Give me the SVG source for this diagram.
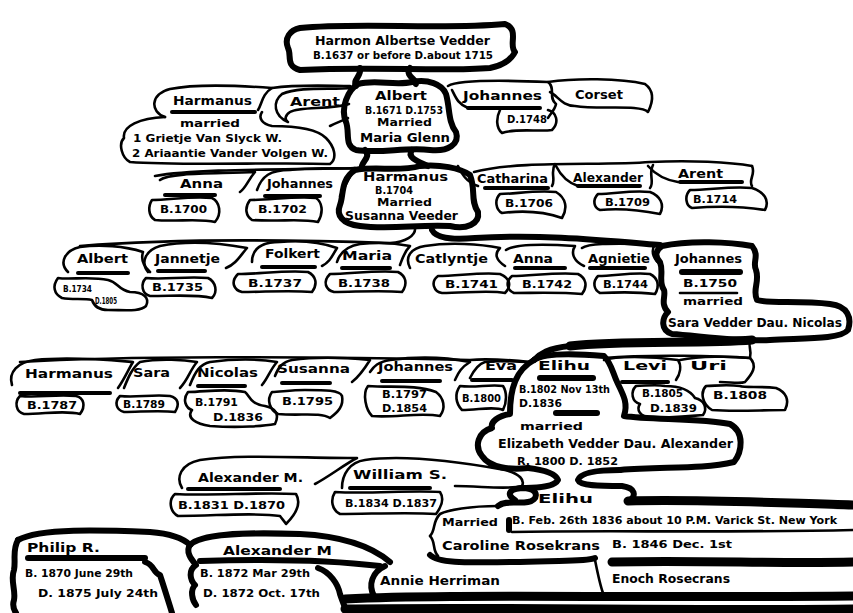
<svg xmlns="http://www.w3.org/2000/svg" width="853" height="613" viewBox="0 0 853 613">
<style>
.o{fill:none;stroke:#000;stroke-width:2.6;stroke-linecap:round;stroke-linejoin:round}
.h{fill:none;stroke:#000;stroke-width:6;stroke-linecap:round;stroke-linejoin:round}
.u{fill:none;stroke:#000;stroke-width:4;stroke-linecap:round}
.b{fill:none;stroke:#000;stroke-width:9;stroke-linecap:round}
text{font-family:"DejaVu Sans","Liberation Sans",sans-serif;font-weight:bold;fill:#000}
.n{font-size:13px}.d{font-size:11px}.t{font-size:10px}.s{font-size:9px}
</style>
<rect width="853" height="613" fill="#fff"/>

<g id="n-harmon">
<path class="h" d="M300,28 C360,22 440,30 505,24 C520,30 508,45 515,52 C510,62 500,66 490,68 C440,72 380,66 300,70 C285,66 292,55 288,48 C284,38 290,30 300,28 Z"/>
<text class="n" x="315" y="45" textLength="175" lengthAdjust="spacingAndGlyphs">Harmon Albertse Vedder</text>
<text class="d" x="313" y="59" textLength="180" lengthAdjust="spacingAndGlyphs">B.1637 or before D.about 1715</text>
</g>

<g id="n-harmanus-1">
<path class="o" d="M165,117 C150,112 150,94 170,89 C200,83 245,86 272,88 C262,94 262,104 258,110"/>
<path class="o" d="M165,117 C140,118 122,126 124,138 C118,144 122,158 130,162 C180,166 280,162 330,164 C338,158 334,146 326,138 C318,130 300,126 272,126 C262,124 258,118 262,112"/>
<path class="u" d="M172,112 L255,112"/>
<text class="n" x="173" y="105" textLength="79" lengthAdjust="spacingAndGlyphs">Harmanus</text>
<text class="d" x="180" y="127" textLength="60" lengthAdjust="spacingAndGlyphs">married</text>
<text class="d" x="133" y="142" textLength="149" lengthAdjust="spacingAndGlyphs">1 Grietje Van Slyck W.</text>
<text class="d" x="132" y="157" textLength="196" lengthAdjust="spacingAndGlyphs">2 Ariaantie Vander Volgen W.</text>
</g>

<g id="n-arent-1">
<path class="o" d="M282,94 C300,86 330,90 352,88 M349,104 C330,110 300,106 290,112 C284,116 285,120 288,122 C274,116 272,102 282,94"/>
<text class="n" x="290" y="106" textLength="50" lengthAdjust="spacingAndGlyphs">Arent</text>
</g>

<g id="n-albert">
<path class="h" d="M358,84 C375,79 395,86 412,82 C428,79 442,84 446,94 C450,108 448,122 456,132 C460,144 448,152 430,150 C405,147 380,154 356,150 C344,146 350,132 346,122 C340,108 348,90 358,84 Z"/>
<text class="n" x="375" y="100" textLength="52" lengthAdjust="spacingAndGlyphs">Albert</text>
<text class="t" x="365" y="114" textLength="78" lengthAdjust="spacingAndGlyphs">B.1671 D.1753</text>
<text class="t" x="377" y="126" textLength="55" lengthAdjust="spacingAndGlyphs">Married</text>
<text class="n" x="360" y="142" textLength="90" lengthAdjust="spacingAndGlyphs">Maria Glenn</text>
</g>

<g id="n-johannes-1">
<path class="o" d="M448,86 C458,80 500,80 548,82 C556,88 548,98 556,104 C555,110 550,114 548,118 M452,90 C456,98 458,104 468,108"/>
<path class="u" d="M468,108 L540,108"/>
<path class="o" d="M500,110 C496,118 496,128 502,133 C515,128 540,132 552,130 C560,122 556,112 548,110"/>
<text class="n" x="463" y="100" textLength="79" lengthAdjust="spacingAndGlyphs">Johannes</text>
<text class="d" x="507" y="123" textLength="40" lengthAdjust="spacingAndGlyphs">D.1748</text>
</g>

<g id="n-corset">
<path class="o" d="M548,82 C575,78 620,78 645,84 C656,92 652,104 648,112 C640,104 600,110 575,106 C562,106 558,96 550,92"/>
<text class="n" x="575" y="99" textLength="48" lengthAdjust="spacingAndGlyphs">Corset</text>
</g>

<g id="n-anna-1">
<path class="o" d="M160,180 C170,172 220,174 255,172 C248,180 246,188 240,192"/>
<path class="u" d="M165,195 L215,195"/>
<path class="o" d="M152,200 C148,206 148,216 155,220 C175,222 200,218 215,222 C222,214 220,202 212,198 C190,196 170,200 152,200 Z"/>
<text class="n" x="180" y="188" textLength="43" lengthAdjust="spacingAndGlyphs">Anna</text>
<text class="d" x="160" y="213" textLength="47" lengthAdjust="spacingAndGlyphs">B.1700</text>
</g>

<g id="n-johannes-2">
<path class="o" d="M257,190 C262,176 270,170 290,170 C320,166 345,170 355,168 C350,176 345,186 340,196"/>
<path class="u" d="M265,196 L320,196"/>
<path class="o" d="M250,200 C244,208 246,216 252,220 C280,222 300,218 318,222 C324,212 322,202 316,198 C295,196 270,200 250,200 Z"/>
<text class="n" x="267" y="188" textLength="66" lengthAdjust="spacingAndGlyphs">Johannes</text>
<text class="d" x="258" y="213" textLength="49" lengthAdjust="spacingAndGlyphs">B.1702</text>
</g>

<g id="n-harmanus-2">
<path class="h" d="M355,170 C375,166 400,172 420,166 C440,164 460,168 470,175 C476,190 470,200 478,212 C480,224 466,230 450,226 C420,224 390,230 360,226 C342,224 336,215 340,205 C344,195 340,180 355,170 Z"/>
<text class="n" x="363" y="181" textLength="85" lengthAdjust="spacingAndGlyphs">Harmanus</text>
<text class="t" x="375" y="194" textLength="38" lengthAdjust="spacingAndGlyphs">B.1704</text>
<text class="t" x="377" y="206" textLength="55" lengthAdjust="spacingAndGlyphs">Married</text>
<text class="n" x="345" y="220" textLength="113" lengthAdjust="spacingAndGlyphs">Susanna Veeder</text>
</g>

<g id="n-catharina">
<path class="o" d="M458,166 C462,174 466,182 478,186 M555,164 C550,172 556,180 552,186"/>
<path class="u" d="M485,188 L548,188"/>
<path class="o" d="M500,194 C494,200 496,210 502,213 C525,210 545,212 562,218 C568,208 566,198 556,192 C535,190 515,194 500,194 Z"/>
<text class="n" x="477" y="183" textLength="71" lengthAdjust="spacingAndGlyphs">Catharina</text>
<text class="d" x="505" y="207" textLength="48" lengthAdjust="spacingAndGlyphs">B.1706</text>
</g>

<g id="n-alexander-1">
<path class="o" d="M556,166 C560,174 566,182 578,186 M653,165 C648,175 655,182 650,188"/>
<path class="u" d="M578,186 L640,186"/>
<path class="o" d="M598,194 C592,200 594,208 600,210 C620,208 640,210 660,214 C665,204 660,196 650,192 C630,190 615,194 598,194 Z"/>
<text class="n" x="573" y="182" textLength="70" lengthAdjust="spacingAndGlyphs">Alexander</text>
<text class="d" x="605" y="206" textLength="45" lengthAdjust="spacingAndGlyphs">B.1709</text>
</g>

<g id="n-arent-2">
<path class="o" d="M648,166 C655,174 665,180 678,182 M752,166 C756,174 748,180 752,186"/>
<path class="u" d="M680,182 L742,182"/>
<path class="o" d="M690,190 C684,196 686,206 692,208 C715,206 740,206 765,210 C770,200 764,192 752,188 C730,186 710,190 690,190 Z"/>
<text class="n" x="678" y="178" textLength="45" lengthAdjust="spacingAndGlyphs">Arent</text>
<text class="d" x="693" y="203" textLength="44" lengthAdjust="spacingAndGlyphs">B.1714</text>
</g>

<g id="n-albert-2">
<path class="o" d="M68,272 C58,262 66,250 80,247 C100,244 125,246 143,252 C140,262 146,268 150,272"/>
<path class="u" d="M78,273 L128,273"/>
<path class="o" d="M58,278 C52,286 54,294 62,298 C72,300 84,298 92,300 C94,306 98,310 108,310 C125,310 140,312 146,306 C150,298 144,292 130,292 C118,290 118,282 108,280 C90,276 70,280 58,278 Z"/>
<text class="n" x="77" y="263" textLength="51" lengthAdjust="spacingAndGlyphs">Albert</text>
<text class="s" x="63" y="292" textLength="29" lengthAdjust="spacingAndGlyphs">B.1734</text>
<text class="s" x="95" y="304" textLength="22" lengthAdjust="spacingAndGlyphs">D.1805</text>
</g>

<g id="n-jannetje">
<path class="o" d="M148,272 C140,262 146,250 160,246 C190,240 225,244 247,248 C240,256 236,264 226,268"/>
<path class="u" d="M158,271 L205,271"/>
<path class="o" d="M146,278 C140,284 142,294 150,296 C175,296 195,294 212,298 C218,292 216,282 208,278 C185,276 165,280 146,278 Z"/>
<text class="n" x="155" y="263" textLength="65" lengthAdjust="spacingAndGlyphs">Jannetje</text>
<text class="d" x="152" y="291" textLength="51" lengthAdjust="spacingAndGlyphs">B.1735</text>
</g>

<g id="n-folkert">
<path class="o" d="M252,262 C252,248 262,242 280,242 C300,240 320,242 337,248 C332,256 330,262 322,266"/>
<path class="u" d="M262,267 L315,267"/>
<path class="o" d="M238,274 C230,282 234,290 242,292 C265,292 290,290 312,292 C318,284 316,276 308,272 C285,270 260,274 238,274 Z"/>
<text class="n" x="265" y="258" textLength="55" lengthAdjust="spacingAndGlyphs">Folkert</text>
<text class="d" x="248" y="287" textLength="54" lengthAdjust="spacingAndGlyphs">B.1737</text>
</g>

<g id="n-maria">
<path class="o" d="M337,262 C340,252 348,246 360,244 C380,242 400,244 410,246 C404,252 402,260 400,265"/>
<path class="u" d="M342,268 L390,268"/>
<path class="o" d="M330,274 C322,282 326,290 334,292 C355,292 380,290 402,292 C408,284 406,276 398,272 C375,270 350,274 330,274 Z"/>
<text class="n" x="342" y="260" textLength="50" lengthAdjust="spacingAndGlyphs">Maria</text>
<text class="d" x="338" y="287" textLength="52" lengthAdjust="spacingAndGlyphs">B.1738</text>
</g>

<g id="n-catlyntje">
<path class="o" d="M410,268 C404,256 412,248 425,246 C450,242 480,244 500,248 C494,254 496,260 505,266"/>
<path class="o" d="M438,276 C430,282 434,292 442,293 C465,293 490,290 505,293 C512,286 510,278 500,274 C480,272 458,276 438,276 Z"/>
<text class="n" x="415" y="263" textLength="73" lengthAdjust="spacingAndGlyphs">Catlyntje</text>
<text class="d" x="445" y="288" textLength="53" lengthAdjust="spacingAndGlyphs">B.1741</text>
</g>

<g id="n-anna-2">
<path class="o" d="M506,250 C515,244 545,244 575,246 C570,254 575,262 584,266"/>
<path class="u" d="M515,268 L565,268"/>
<path class="o" d="M512,276 C505,282 507,290 514,293 C535,293 560,292 582,294 C588,286 586,278 578,274 C555,272 532,276 512,276 Z"/>
<text class="n" x="513" y="263" textLength="40" lengthAdjust="spacingAndGlyphs">Anna</text>
<text class="d" x="522" y="288" textLength="50" lengthAdjust="spacingAndGlyphs">B.1742</text>
</g>

<g id="n-agnietie">
<path class="o" d="M582,248 C590,242 625,244 655,244 C650,252 654,260 662,266"/>
<path class="u" d="M590,268 L645,268"/>
<path class="o" d="M598,276 C592,282 594,290 600,293 C620,292 640,292 655,294 C660,286 658,278 650,274 C632,272 615,276 598,276 Z"/>
<text class="n" x="588" y="263" textLength="62" lengthAdjust="spacingAndGlyphs">Agnietie</text>
<text class="d" x="603" y="288" textLength="45" lengthAdjust="spacingAndGlyphs">B.1744</text>
</g>

<g id="n-johannes-3">
<path class="h" d="M662,246 C690,240 730,242 752,246 C760,256 752,262 756,270 C760,282 752,290 757,300 C770,304 800,300 830,304 C848,306 852,318 848,330 C840,340 800,338 770,340 C745,342 700,336 672,334 C660,330 662,318 668,312 C660,304 666,296 664,290 C658,282 664,272 660,262 C654,256 656,250 662,246 Z"/>
<path class="h" d="M682,272 L740,272"/>
<path class="o" d="M680,293 L737,293"/>
<text class="n" x="675" y="263" textLength="67" lengthAdjust="spacingAndGlyphs">Johannes</text>
<text class="d" x="683" y="287" textLength="54" lengthAdjust="spacingAndGlyphs">B.1750</text>
<text class="d" x="683" y="305" textLength="60" lengthAdjust="spacingAndGlyphs">married</text>
<text class="n" x="668" y="327" textLength="174" lengthAdjust="spacingAndGlyphs">Sara Vedder Dau. Nicolas</text>
</g>

<g id="n-harmanus-3">
<path class="o" d="M12,385 C8,372 18,362 35,360 C70,356 110,360 133,362 C128,370 125,378 118,388"/>
<path class="u" d="M20,393 L110,393"/>
<path class="o" d="M20,396 C14,402 16,412 24,414 C45,414 65,410 80,414 C86,406 84,398 76,396 C55,394 38,398 20,396 Z"/>
<text class="n" x="25" y="378" textLength="88" lengthAdjust="spacingAndGlyphs">Harmanus</text>
<text class="d" x="27" y="409" textLength="50" lengthAdjust="spacingAndGlyphs">B.1787</text>
</g>

<g id="n-sara">
<path class="o" d="M124,388 C128,378 132,368 140,362 C160,358 185,360 197,362 C190,370 188,380 180,388"/>
<path class="o" d="M120,396 C114,402 116,410 124,412 C140,412 160,410 175,412 C180,404 178,398 170,396 C152,394 136,398 120,396 Z"/>
<text class="n" x="133" y="377" textLength="37" lengthAdjust="spacingAndGlyphs">Sara</text>
<text class="d" x="123" y="408" textLength="42" lengthAdjust="spacingAndGlyphs">B.1789</text>
</g>

<g id="n-nicolas">
<path class="o" d="M190,385 C195,372 200,364 210,362 C240,358 265,360 277,362 C270,370 268,378 262,385"/>
<path class="u" d="M198,386 L245,386"/>
<path class="o" d="M188,392 C182,400 186,408 192,410 C186,418 196,424 210,426 C240,428 265,426 275,424 C280,414 275,408 265,406 C250,404 250,396 245,392 C225,388 205,392 188,392 Z"/>
<text class="n" x="197" y="377" textLength="61" lengthAdjust="spacingAndGlyphs">Nicolas</text>
<text class="d" x="195" y="406" textLength="43" lengthAdjust="spacingAndGlyphs">B.1791</text>
<text class="d" x="213" y="421" textLength="50" lengthAdjust="spacingAndGlyphs">D.1836</text>
</g>

<g id="n-susanna">
<path class="o" d="M275,376 C278,368 282,362 292,360 C320,356 350,358 370,360 C365,368 360,376 352,382"/>
<path class="u" d="M282,383 L330,383"/>
<path class="o" d="M272,392 C266,400 270,410 278,414 C300,416 320,412 330,418 C338,412 344,406 342,396 C340,390 325,390 305,390 C290,390 280,392 272,392 Z"/>
<text class="n" x="277" y="373" textLength="73" lengthAdjust="spacingAndGlyphs">Susanna</text>
<text class="d" x="282" y="405" textLength="51" lengthAdjust="spacingAndGlyphs">B.1795</text>
</g>

<g id="n-johannes-4">
<path class="o" d="M370,372 C374,366 378,362 390,360 C420,356 450,358 470,362 C460,368 458,374 455,380"/>
<path class="u" d="M382,381 L440,381"/>
<path class="o" d="M368,386 C362,394 366,410 372,416 C395,418 420,412 440,416 C446,408 444,398 436,392 C415,384 390,388 368,386 Z"/>
<text class="n" x="378" y="371" textLength="75" lengthAdjust="spacingAndGlyphs">Johannes</text>
<text class="d" x="382" y="398" textLength="45" lengthAdjust="spacingAndGlyphs">B.1797</text>
<text class="d" x="382" y="412" textLength="45" lengthAdjust="spacingAndGlyphs">D.1854</text>
</g>

<g id="n-eva">
<path class="o" d="M470,378 C474,370 478,364 485,362 C500,360 515,362 530,362 C525,368 520,374 517,378"/>
<path class="u" d="M472,380 L512,380"/>
<path class="o" d="M460,386 C454,394 456,404 462,410 C478,410 495,406 503,410 C507,402 507,392 503,386 C490,384 475,388 460,386 Z"/>
<text class="n" x="485" y="370" textLength="32" lengthAdjust="spacingAndGlyphs">Eva</text>
<text class="d" x="462" y="402" textLength="39" lengthAdjust="spacingAndGlyphs">B.1800</text>
</g>

<g id="n-elihu-1">
<path class="h" d="M534,360 C545,352 580,354 604,356 C612,364 612,372 618,384 C624,396 628,404 624,416 C650,420 700,418 730,424 C745,432 742,452 734,462 C700,470 660,466 620,470"/>
<path class="h" d="M534,360 C516,370 510,388 510,414 C498,416 490,422 492,428 C478,432 474,446 482,456 C490,468 510,470 528,468"/>
<path class="h" d="M540,378 L593,378"/>
<path class="h" d="M556,413 L597,413"/>
<text class="n" x="538" y="370" textLength="52" lengthAdjust="spacingAndGlyphs">Elihu</text>
<text class="t" x="519" y="393" textLength="91" lengthAdjust="spacingAndGlyphs">B.1802 Nov 13th</text>
<text class="t" x="519" y="407" textLength="43" lengthAdjust="spacingAndGlyphs">D.1836</text>
<text class="d" x="520" y="430" textLength="63" lengthAdjust="spacingAndGlyphs">married</text>
<text class="n" x="498" y="448" textLength="235" lengthAdjust="spacingAndGlyphs">Elizabeth Vedder Dau. Alexander</text>
<text class="d" x="517" y="465" textLength="101" lengthAdjust="spacingAndGlyphs">R. 1800 D. 1852</text>
</g>

<g id="n-levi">
<path class="o" d="M604,360 C615,356 650,356 678,360 C682,366 680,374 676,380"/>
<path class="u" d="M622,382 L668,382"/>
<path class="o" d="M636,386 C630,392 632,402 640,404 C636,410 640,416 650,418 C670,418 690,416 703,415 C708,408 704,400 695,398 C690,390 680,386 665,386 C655,384 645,386 636,386 Z"/>
<text class="n" x="623" y="370" textLength="44" lengthAdjust="spacingAndGlyphs">Levi</text>
<text class="d" x="642" y="397" textLength="41" lengthAdjust="spacingAndGlyphs">B.1805</text>
<text class="d" x="650" y="412" textLength="47" lengthAdjust="spacingAndGlyphs">D.1839</text>
</g>

<g id="n-uri">
<path class="o" d="M680,360 C700,356 730,356 750,358 C758,366 752,374 745,382 C740,384 730,382 720,382"/>
<path class="o" d="M706,386 C700,392 702,404 712,410 C735,412 760,410 785,410 C790,400 786,392 776,388 C760,386 745,388 740,386 C725,384 715,386 706,386 Z"/>
<text class="n" x="690" y="370" textLength="37" lengthAdjust="spacingAndGlyphs">Uri</text>
<text class="d" x="713" y="399" textLength="54" lengthAdjust="spacingAndGlyphs">B.1808</text>
</g>

<g id="n-alexander-2">
<path class="o" d="M182,488 C176,478 180,464 200,460 C240,454 300,458 357,458 C345,464 330,476 315,484"/>
<path class="u" d="M188,489 L280,489"/>
<path class="o" d="M175,494 C168,500 170,512 178,516 C215,516 255,512 280,516 C283,520 285,522 286,524 C296,514 302,504 296,494 C260,492 210,496 175,494 Z"/>
<text class="n" x="198" y="482" textLength="105" lengthAdjust="spacingAndGlyphs">Alexander M.</text>
<text class="d" x="178" y="509" textLength="107" lengthAdjust="spacingAndGlyphs">B.1831 D.1870</text>
</g>

<g id="n-william">
<path class="o" d="M342,488 C342,474 350,462 365,460 C400,455 450,460 505,470 C520,474 525,480 522,486 C510,490 480,486 455,486"/>
<path class="u" d="M350,488 L430,488"/>
<path class="o" d="M335,492 C330,500 332,510 340,514 C370,514 410,512 436,514 C442,506 444,498 440,492 C410,490 370,494 335,492 Z"/>
<text class="n" x="353" y="479" textLength="94" lengthAdjust="spacingAndGlyphs">William S.</text>
<text class="d" x="345" y="507" textLength="92" lengthAdjust="spacingAndGlyphs">B.1834 D.1837</text>
</g>

<g id="n-elihu-2">
<path class="h" d="M515,500 C505,494 510,488 525,488 C540,490 538,500 528,502 C518,504 505,500 498,506"/>
<path class="o" d="M498,506 C470,506 448,510 440,514 C432,522 436,530 430,536 C436,542 432,550 438,556"/>
<path class="o" d="M512,532 C600,530 720,533 853,530"/>
<path class="h" d="M509,520 L509,530"/>
<text class="n" x="538" y="503" textLength="55" lengthAdjust="spacingAndGlyphs">Elihu</text>
<text class="d" x="442" y="526" textLength="56" lengthAdjust="spacingAndGlyphs">Married</text>
<text class="d" x="512" y="524" textLength="325" lengthAdjust="spacingAndGlyphs">B. Feb. 26th 1836 about 10 P.M. Varick St. New York</text>
<text class="n" x="442" y="550" textLength="158" lengthAdjust="spacingAndGlyphs">Caroline Rosekrans</text>
<text class="d" x="612" y="548" textLength="120" lengthAdjust="spacingAndGlyphs">B. 1846 Dec. 1st</text>
</g>

<g id="n-philip">
<path class="h" d="M18,540 C40,528 100,530 150,532 C175,534 185,540 190,545"/>
<path class="h" d="M18,540 C12,550 16,560 14,570 C10,580 16,590 14,600 C12,606 14,610 16,613"/>
<path class="h" d="M145,562 C155,565 152,572 160,575 C165,590 168,600 172,613"/>
<path class="h" d="M28,558 L145,558"/>
<text class="n" x="27" y="552" textLength="73" lengthAdjust="spacingAndGlyphs">Philip R.</text>
<text class="d" x="25" y="577" textLength="108" lengthAdjust="spacingAndGlyphs">B. 1870 June 29th</text>
<text class="d" x="38" y="597" textLength="120" lengthAdjust="spacingAndGlyphs">D. 1875 July 24th</text>
</g>

<g id="n-alexander-3">
<path class="h" d="M190,545 C200,534 240,532 300,534 C340,536 370,545 390,562"/>
<path class="h" d="M190,545 C185,552 192,560 196,565 C188,570 190,580 195,585 C190,590 192,600 196,605"/>
<path class="h" d="M318,568 C330,572 338,584 340,594 C342,600 344,605 346,610"/>
<path class="h" d="M200,561 C260,559 330,560 380,566"/>
<text class="n" x="223" y="555" textLength="109" lengthAdjust="spacingAndGlyphs">Alexander M</text>
<text class="d" x="200" y="577" textLength="110" lengthAdjust="spacingAndGlyphs">B. 1872 Mar 29th</text>
<text class="d" x="203" y="597" textLength="117" lengthAdjust="spacingAndGlyphs">D. 1872 Oct. 17th</text>
</g>

<g id="n-annie">
<path class="h" d="M385,566 C372,572 368,585 374,596"/>
<path class="h" d="M430,555 C440,565 480,562 520,562 C560,560 585,562 595,558"/>
<text class="n" x="380" y="585" textLength="120" lengthAdjust="spacingAndGlyphs">Annie Herriman</text>
</g>

<g id="n-enoch">
<path class="b" d="M612,562 C700,560 780,564 853,562"/>
<text class="n" x="612" y="583" textLength="118" lengthAdjust="spacingAndGlyphs">Enoch Rosecrans</text>
</g>

<g id="connectors">
<path class="h" d="M360,68 C362,76 352,80 356,86"/>
<path class="h" d="M410,68 C404,76 418,80 416,84"/>
<path class="h" d="M365,150 C372,158 360,162 362,168"/>
<path class="h" d="M412,150 C406,158 420,162 428,166"/>
<path class="o" d="M272,88 C300,84 330,86 350,86"/>
<path class="o" d="M330,126 C338,122 344,120 348,118"/>
<path class="o" d="M155,176 C200,168 300,170 355,168"/>
<path class="o" d="M474,172 C520,160 600,166 650,162 C690,160 730,162 752,166"/>
<path class="o" d="M415,228 C416,236 405,242 390,243 C300,240 180,238 80,246"/>
<path class="h" d="M432,230 C436,238 450,240 475,238 C540,234 600,240 660,245"/>
<path class="b" d="M570,346 C620,340 700,344 752,340"/>
<path class="h" d="M570,346 C548,348 540,354 534,360"/>
<path class="o" d="M20,362 C120,356 300,356 470,360 C490,358 510,360 530,362"/>
<path class="o" d="M604,358 C650,354 720,356 750,358 C752,350 748,346 750,342"/>
<path class="h" d="M528,468 C545,470 556,474 558,480 C555,486 540,488 526,488"/>
<path class="h" d="M620,470 C592,470 580,474 578,480 C580,486 600,486 622,486 C636,488 636,496 630,500"/>
<path class="b" d="M628,501 C700,499 780,503 853,505"/>
<path class="o" d="M595,560 C598,575 600,585 603,593"/>
<path class="b" d="M345,599 C450,594 600,598 853,596"/>
<path class="b" d="M345,609 C500,607 700,611 853,609"/>
</g>
</svg>
